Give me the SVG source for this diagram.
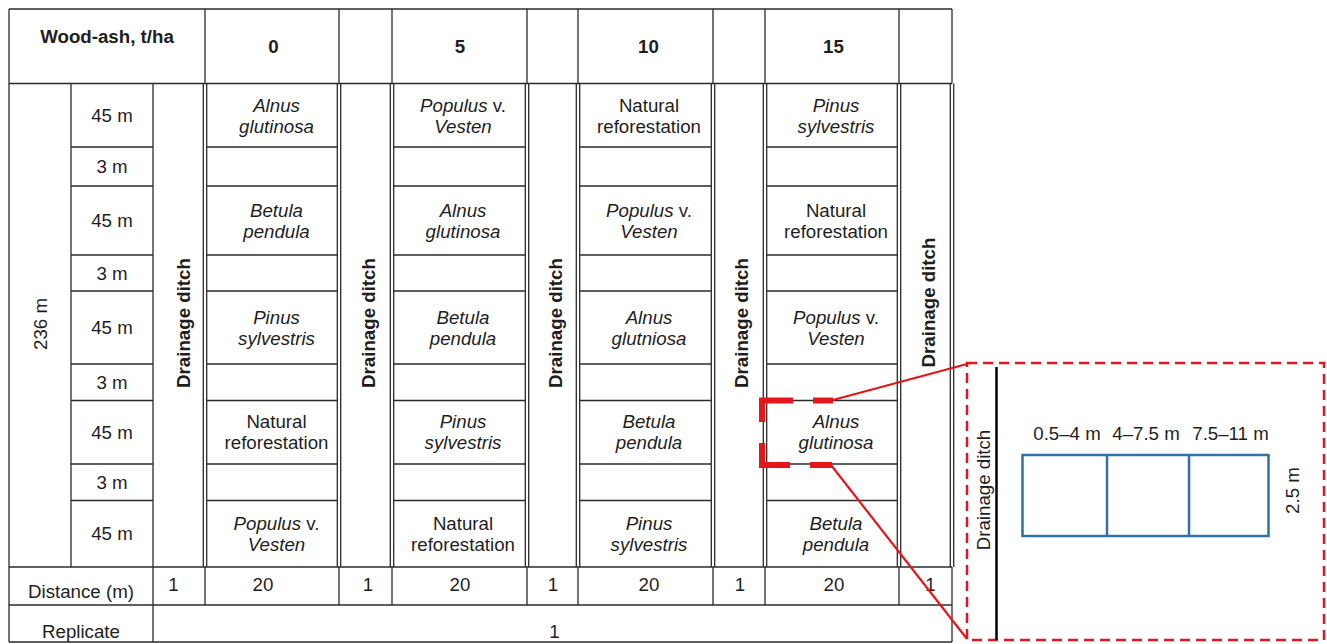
<svg xmlns="http://www.w3.org/2000/svg" width="1327" height="644" viewBox="0 0 1327 644">
<style>
text{font-family:"Liberation Sans",Arial,sans-serif;font-size:18.7px;fill:#1e1e1e;text-anchor:middle}
.b{font-weight:bold}
.i{font-style:italic}
.n{font-style:normal}
.grid line{stroke:#2a2a2a;stroke-width:1.3}
.red{stroke:#e4161b;fill:none}
.blue{stroke:#2e72ad;stroke-width:2.5;fill:none}
</style>
<rect width="1327" height="644" fill="#ffffff"/>
<g id="grid" class="grid">
  <line x1="9" y1="9" x2="952" y2="9"/>
  <line x1="9" y1="83.5" x2="952" y2="83.5"/>
  <line x1="9" y1="567" x2="952" y2="567"/>
  <line x1="9" y1="605" x2="952" y2="605"/>
  <line x1="9" y1="642" x2="952" y2="642"/>
  <line x1="9" y1="9" x2="9" y2="642"/>
  <line x1="71" y1="83.5" x2="71" y2="567"/>
  <line x1="153" y1="83.5" x2="153" y2="642"/>
  <line x1="952" y1="567" x2="952" y2="642"/>
  <!-- header verticals -->
  <line x1="205" y1="9" x2="205" y2="83.5"/>
  <line x1="339" y1="9" x2="339" y2="83.5"/>
  <line x1="392" y1="9" x2="392" y2="83.5"/>
  <line x1="527" y1="9" x2="527" y2="83.5"/>
  <line x1="578" y1="9" x2="578" y2="83.5"/>
  <line x1="713" y1="9" x2="713" y2="83.5"/>
  <line x1="765" y1="9" x2="765" y2="83.5"/>
  <line x1="899" y1="9" x2="899" y2="83.5"/>
  <line x1="952" y1="9" x2="952" y2="83.5"/>
  <!-- body double verticals -->
  <line x1="203.3" y1="83.5" x2="203.3" y2="567"/><line x1="206.7" y1="83.5" x2="206.7" y2="567"/>
  <line x1="337.3" y1="83.5" x2="337.3" y2="567"/><line x1="340.7" y1="83.5" x2="340.7" y2="567"/>
  <line x1="390.3" y1="83.5" x2="390.3" y2="567"/><line x1="393.7" y1="83.5" x2="393.7" y2="567"/>
  <line x1="525.3" y1="83.5" x2="525.3" y2="567"/><line x1="528.7" y1="83.5" x2="528.7" y2="567"/>
  <line x1="576.3" y1="83.5" x2="576.3" y2="567"/><line x1="579.7" y1="83.5" x2="579.7" y2="567"/>
  <line x1="711.3" y1="83.5" x2="711.3" y2="567"/><line x1="714.7" y1="83.5" x2="714.7" y2="567"/>
  <line x1="763.3" y1="83.5" x2="763.3" y2="567"/><line x1="766.7" y1="83.5" x2="766.7" y2="567"/>
  <line x1="897.3" y1="83.5" x2="897.3" y2="567"/><line x1="900.7" y1="83.5" x2="900.7" y2="567"/>
  <line x1="950.3" y1="83.5" x2="950.3" y2="567"/><line x1="953.7" y1="83.5" x2="953.7" y2="567"/>
  <!-- distance row verticals -->
  <line x1="205" y1="567" x2="205" y2="605"/>
  <line x1="339" y1="567" x2="339" y2="605"/>
  <line x1="392" y1="567" x2="392" y2="605"/>
  <line x1="527" y1="567" x2="527" y2="605"/>
  <line x1="578" y1="567" x2="578" y2="605"/>
  <line x1="713" y1="567" x2="713" y2="605"/>
  <line x1="765" y1="567" x2="765" y2="605"/>
  <line x1="899" y1="567" x2="899" y2="605"/>
  <!-- row lines -->
  <g id="rowlines">
    <line x1="71" y1="147" x2="153" y2="147"/><line x1="71" y1="186" x2="153" y2="186"/>
    <line x1="71" y1="255" x2="153" y2="255"/><line x1="71" y1="291" x2="153" y2="291"/>
    <line x1="71" y1="364" x2="153" y2="364"/><line x1="71" y1="400.5" x2="153" y2="400.5"/>
    <line x1="71" y1="464" x2="153" y2="464"/><line x1="71" y1="500.5" x2="153" y2="500.5"/>
    <line x1="206.7" y1="147" x2="337.3" y2="147"/><line x1="206.7" y1="186" x2="337.3" y2="186"/>
    <line x1="206.7" y1="255" x2="337.3" y2="255"/><line x1="206.7" y1="291" x2="337.3" y2="291"/>
    <line x1="206.7" y1="364" x2="337.3" y2="364"/><line x1="206.7" y1="400.5" x2="337.3" y2="400.5"/>
    <line x1="206.7" y1="464" x2="337.3" y2="464"/><line x1="206.7" y1="500.5" x2="337.3" y2="500.5"/>
    <line x1="393.7" y1="147" x2="525.3" y2="147"/><line x1="393.7" y1="186" x2="525.3" y2="186"/>
    <line x1="393.7" y1="255" x2="525.3" y2="255"/><line x1="393.7" y1="291" x2="525.3" y2="291"/>
    <line x1="393.7" y1="364" x2="525.3" y2="364"/><line x1="393.7" y1="400.5" x2="525.3" y2="400.5"/>
    <line x1="393.7" y1="464" x2="525.3" y2="464"/><line x1="393.7" y1="500.5" x2="525.3" y2="500.5"/>
    <line x1="579.7" y1="147" x2="711.3" y2="147"/><line x1="579.7" y1="186" x2="711.3" y2="186"/>
    <line x1="579.7" y1="255" x2="711.3" y2="255"/><line x1="579.7" y1="291" x2="711.3" y2="291"/>
    <line x1="579.7" y1="364" x2="711.3" y2="364"/><line x1="579.7" y1="400.5" x2="711.3" y2="400.5"/>
    <line x1="579.7" y1="464" x2="711.3" y2="464"/><line x1="579.7" y1="500.5" x2="711.3" y2="500.5"/>
    <line x1="766.7" y1="147" x2="897.3" y2="147"/><line x1="766.7" y1="186" x2="897.3" y2="186"/>
    <line x1="766.7" y1="255" x2="897.3" y2="255"/><line x1="766.7" y1="291" x2="897.3" y2="291"/>
    <line x1="766.7" y1="364" x2="897.3" y2="364"/><line x1="766.7" y1="400.5" x2="897.3" y2="400.5"/>
    <line x1="766.7" y1="464" x2="897.3" y2="464"/><line x1="766.7" y1="500.5" x2="897.3" y2="500.5"/>
  </g>
</g>
<g id="header">
  <text class="b" x="107" y="43">Wood-ash, t/ha</text>
  <text class="b" x="273.5" y="53">0</text>
  <text class="b" x="460" y="53">5</text>
  <text class="b" x="648.5" y="53">10</text>
  <text class="b" x="833.5" y="53">15</text>
</g>
<g id="side-labels">
  <text transform="translate(40,324) rotate(-90)" x="0" y="6.7">236 m</text>
  <text x="112" y="122">45 m</text>
  <text x="112" y="173.2">3 m</text>
  <text x="112" y="227.2">45 m</text>
  <text x="112" y="279.7">3 m</text>
  <text x="112" y="334.2">45 m</text>
  <text x="112" y="388.7">3 m</text>
  <text x="112" y="438.7">45 m</text>
  <text x="112" y="488.7">3 m</text>
  <text x="112" y="540.4">45 m</text>
</g>
<g id="ditches">
  <text class="b" transform="translate(183,323) rotate(-90)" x="0" y="6.7">Drainage ditch</text>
  <text class="b" transform="translate(368,323) rotate(-90)" x="0" y="6.7">Drainage ditch</text>
  <text class="b" transform="translate(555,323) rotate(-90)" x="0" y="6.7">Drainage ditch</text>
  <text class="b" transform="translate(741,323) rotate(-90)" x="0" y="6.7">Drainage ditch</text>
  <text class="b" transform="translate(928,302.5) rotate(-90)" x="0" y="6.7">Drainage ditch</text>
</g>
<g id="plot-0">
  <text class="i" x="276.5" y="111.5">Alnus</text><text class="i" x="276.5" y="132.5">glutinosa</text>
  <text class="i" x="276.5" y="216.7">Betula</text><text class="i" x="276.5" y="237.7">pendula</text>
  <text class="i" x="276.5" y="323.7">Pinus</text><text class="i" x="276.5" y="344.7">sylvestris</text>
  <text x="276.5" y="428.2">Natural</text><text x="276.5" y="449.2">reforestation</text>
  <text x="276.5" y="530"><tspan class="i">Populus</tspan> v.</text><text class="i" x="276.5" y="551">Vesten</text>
</g>
<g id="plot-5">
  <text x="463" y="111.5"><tspan class="i">Populus</tspan> v.</text><text class="i" x="463" y="132.5">Vesten</text>
  <text class="i" x="463" y="216.7">Alnus</text><text class="i" x="463" y="237.7">glutinosa</text>
  <text class="i" x="463" y="323.7">Betula</text><text class="i" x="463" y="344.7">pendula</text>
  <text class="i" x="463" y="428.2">Pinus</text><text class="i" x="463" y="449.2">sylvestris</text>
  <text x="463" y="530">Natural</text><text x="463" y="551">reforestation</text>
</g>
<g id="plot-10">
  <text x="649" y="111.5">Natural</text><text x="649" y="132.5">reforestation</text>
  <text x="649" y="216.7"><tspan class="i">Populus</tspan> v.</text><text class="i" x="649" y="237.7">Vesten</text>
  <text class="i" x="649" y="323.7">Alnus</text><text class="i" x="649" y="344.7">glutniosa</text>
  <text class="i" x="649" y="428.2">Betula</text><text class="i" x="649" y="449.2">pendula</text>
  <text class="i" x="649" y="530">Pinus</text><text class="i" x="649" y="551">sylvestris</text>
</g>
<g id="plot-15">
  <text class="i" x="836" y="111.5">Pinus</text><text class="i" x="836" y="132.5">sylvestris</text>
  <text x="836" y="216.7">Natural</text><text x="836" y="237.7">reforestation</text>
  <text x="836" y="323.7"><tspan class="i">Populus</tspan> v.</text><text class="i" x="836" y="344.7">Vesten</text>
  <text class="i" x="836" y="428.2">Alnus</text><text class="i" x="836" y="449.2">glutinosa</text>
  <text class="i" x="836" y="530">Betula</text><text class="i" x="836" y="551">pendula</text>
</g>
<g id="distance-row">
  <text x="81" y="598">Distance (m)</text>
  <text x="173.5" y="591">1</text>
  <text x="263" y="591">20</text>
  <text x="368" y="591">1</text>
  <text x="460" y="591">20</text>
  <text x="553" y="591">1</text>
  <text x="649" y="591">20</text>
  <text x="740" y="591">1</text>
  <text x="834" y="591">20</text>
  <text x="930.5" y="591">1</text>
</g>
<g id="replicate-row">
  <text x="81" y="638">Replicate</text>
  <text x="554.5" y="638">1</text>
</g>
<g id="highlight" class="red" stroke-width="6" stroke-linecap="butt" stroke-linejoin="miter">
  <path d="M793 400.5 H762 V422"/>
  <path d="M813 400.5 H833"/>
  <path d="M762 443 V465 H790"/>
  <path d="M810 465 H832"/>
</g>
<g id="connectors" class="red" stroke-width="2.2">
  <line x1="831" y1="400.5" x2="967" y2="364"/>
  <line x1="831" y1="465" x2="967" y2="639"/>
</g>
<g id="inset">
  <rect class="red" x="967" y="363" width="357" height="277" stroke-width="2.5" stroke-dasharray="10 6"/>
  <line x1="996.5" y1="367" x2="996.5" y2="640" stroke="#000" stroke-width="2.5"/>
  <text transform="translate(983,490) rotate(-90)" x="0" y="6.7">Drainage ditch</text>
  <rect class="blue" x="1022.5" y="455" width="246" height="81"/>
  <line class="blue" x1="1107" y1="455" x2="1107" y2="536"/>
  <line class="blue" x1="1189" y1="455" x2="1189" y2="536"/>
  <text x="1067" y="440">0.5–4 m</text>
  <text x="1146" y="440">4–7.5 m</text>
  <text x="1230.5" y="440">7.5–11 m</text>
  <text transform="translate(1292,490.5) rotate(-90)" x="0" y="6.7">2.5 m</text>
</g>
</svg>
